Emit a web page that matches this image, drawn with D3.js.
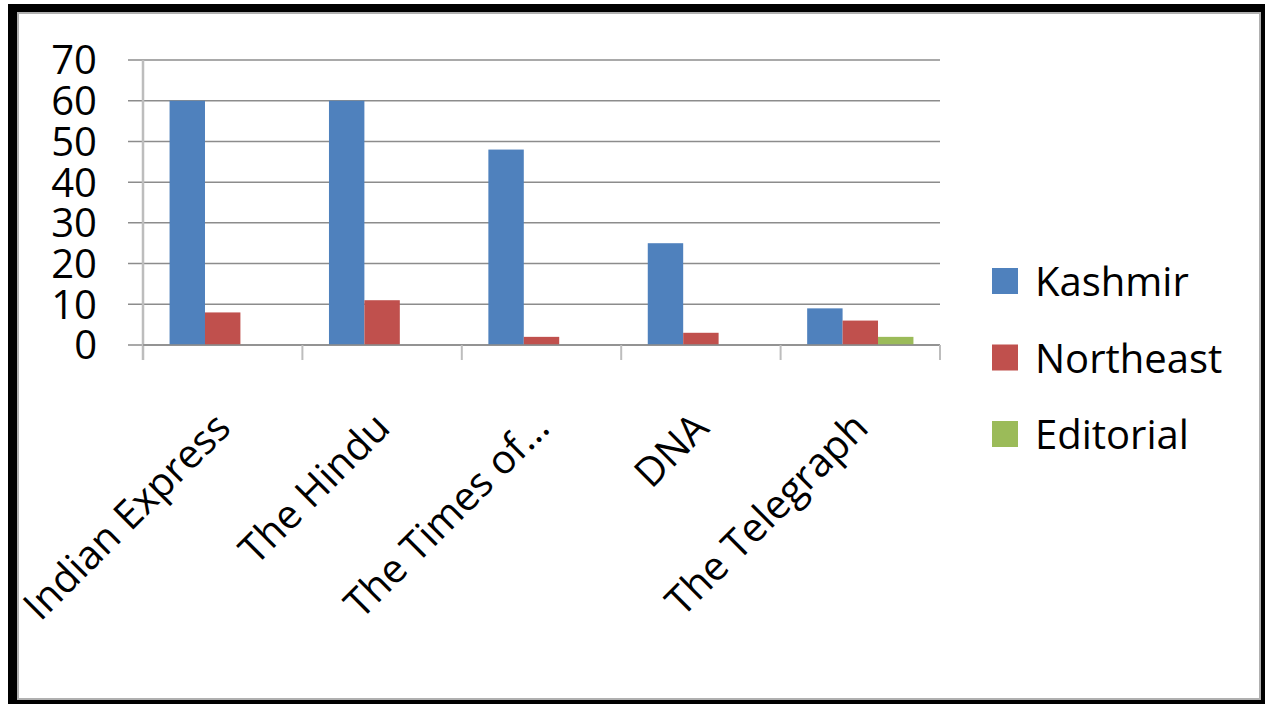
<!DOCTYPE html>
<html>
  <head>
    <title>Kashmir / Northeast coverage</title>
    <script src="https://d3js.org/d3.v7.min.js"></script>
    <style>
      body {
        margin: 0;
        background: #fff;
      }
      text {
        font-family: "Open Sans", sans-serif;
        fill: #000;
      }
    </style>
  </head>
  <body>
    <div id="chart"></div>

    <script>
      // Data
      const papers = ["Indian Express", "The Hindu", "The Times of…", "DNA", "The Telegraph"];
      const seriesNames = ["Kashmir", "Northeast", "Editorial"];
      const kashmir = [60, 60, 48, 25, 9];
      const northeast = [8, 11, 2, 3, 6];
      const editorial = [0, 0, 0, 0, 2];
      const yTicks = [0, 10, 20, 30, 40, 50, 60, 70];
      const colors = ["#4f81bd", "#c0504d", "#9bbb59"];

      const values = [kashmir, northeast, editorial];

      const W = 1268, H = 704;
      const plot = { left: 143, right: 940, top: 60, bottom: 345 };

      const svg = d3
        .select("#chart")
        .append("svg")
        .attr("width", W)
        .attr("height", H);

      // Frame
      svg.append("rect")
        .attr("x", 8).attr("y", 4)
        .attr("width", 1257).attr("height", 702)
        .attr("fill", "#000");
      svg.append("rect")
        .attr("x", 18).attr("y", 13)
        .attr("width", 1242).attr("height", 686)
        .attr("fill", "#fff")
        .attr("stroke", "#b0b0b0")
        .attr("stroke-width", 2);

      // Scales
      const y = d3.scaleLinear().domain([0, 70]).range([plot.bottom, plot.top]);
      const x = d3.scaleBand().domain(papers).range([plot.left, plot.right]);
      const xs = d3.scaleBand()
        .domain(seriesNames)
        .range([0, x.bandwidth()])
        .paddingInner(0)
        .paddingOuter(0.75);

      // Gridlines + y ticks
      svg.append("g")
        .selectAll("line")
        .data(yTicks)
        .enter()
        .append("line")
        .attr("x1", plot.left - 15)
        .attr("x2", plot.right)
        .attr("y1", (d) => y(d))
        .attr("y2", (d) => y(d))
        .attr("stroke", "#8c8c8c")
        .attr("stroke-width", 1.5);

      // Y tick labels
      svg.append("g")
        .selectAll("text")
        .data(yTicks)
        .enter()
        .append("text")
        .attr("x", 97)
        .attr("y", (d) => y(d))
        .attr("dy", "0.36em")
        .attr("text-anchor", "end")
        .style("font-size", "40px")
        .text((d) => d);

      // Bars
      const groups = svg.append("g")
        .selectAll("g")
        .data(papers)
        .enter()
        .append("g")
        .attr("transform", (d) => `translate(${x(d)},0)`);

      groups.selectAll("rect")
        .data((d, i) => seriesNames.map((s, j) => ({ s: s, v: values[j][i], c: colors[j] })))
        .enter()
        .append("rect")
        .attr("x", (d) => xs(d.s))
        .attr("width", xs.bandwidth())
        .attr("y", (d) => y(d.v))
        .attr("height", (d) => y(0) - y(d.v))
        .attr("fill", (d) => d.c);

      // Axes lines
      svg.append("line")
        .attr("x1", plot.left).attr("x2", plot.left)
        .attr("y1", plot.top).attr("y2", plot.bottom + 15)
        .attr("stroke", "#bdbdbd")
        .attr("stroke-width", 2.5);

      svg.append("line")
        .attr("x1", plot.left).attr("x2", plot.right)
        .attr("y1", plot.bottom).attr("y2", plot.bottom)
        .attr("stroke", "#8c8c8c")
        .attr("stroke-width", 1.5);

      // Category ticks
      const boundaries = papers.map((p) => x(p) + x.bandwidth());
      svg.append("g")
        .selectAll("line")
        .data(boundaries)
        .enter()
        .append("line")
        .attr("x1", (d) => d).attr("x2", (d) => d)
        .attr("y1", plot.bottom).attr("y2", plot.bottom + 15)
        .attr("stroke", "#bdbdbd")
        .attr("stroke-width", 2);

      // Category labels, rotated
      svg.append("g")
        .selectAll("text")
        .data(papers)
        .enter()
        .append("text")
        .attr("transform", (d) => `translate(${x(d) + x.bandwidth() / 2 + 10},${plot.bottom + 85}) rotate(-45)`)
        .attr("text-anchor", "end")
        .style("font-size", "40px")
        .text((d) => d);

      // Legend
      const legend = svg.append("g")
        .selectAll("g")
        .data(seriesNames)
        .enter()
        .append("g")
        .attr("transform", (d, i) => `translate(992,${268 + i * 76.5})`);

      legend.append("rect")
        .attr("width", 26)
        .attr("height", 26)
        .attr("fill", (d, i) => colors[i]);

      legend.append("text")
        .attr("x", 43)
        .attr("y", 28)
        .style("font-size", "40px")
        .text((d) => d);
    </script>
  </body>
</html>
